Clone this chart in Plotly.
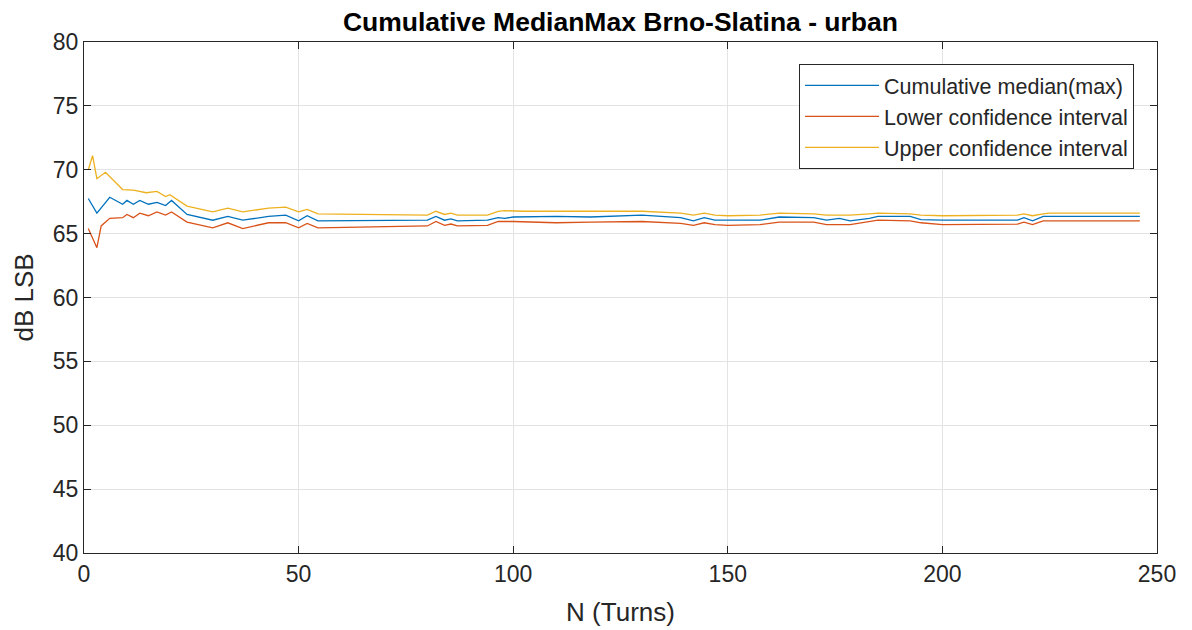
import plotly.graph_objects as go

# Cumulative median (max)
n_med = [1, 3, 6, 9, 10, 11.5, 13, 15, 17, 19, 20.4, 24, 30, 33.5, 37, 43, 47, 50, 52, 54.5,
         80, 82, 84, 85.5, 87, 94, 96.5, 98, 100, 110, 118, 130, 139, 142, 144.5, 147, 150,
         157.5, 162, 170, 173, 176, 178.5, 183, 185, 192.5, 195, 200, 217.5, 219, 221, 223.5, 246]
v_med = [67.75, 66.6, 67.85, 67.3, 67.6, 67.3, 67.6, 67.3, 67.45, 67.2, 67.6, 66.5, 66.05, 66.35, 66.05, 66.35, 66.45, 66.0, 66.4, 66.0,
         66.05, 66.35, 66.05, 66.15, 66.0, 66.05, 66.25, 66.2, 66.3, 66.35, 66.3, 66.45, 66.25, 66.0, 66.25, 66.05, 66.05,
         66.05, 66.3, 66.25, 66.05, 66.2, 66.0, 66.2, 66.35, 66.35, 66.1, 66.05, 66.05, 66.25, 66.0, 66.35, 66.35]

# Lower confidence interval
n_low = [1, 3, 4, 6, 9, 10, 11.5, 13, 15, 17, 19, 20.4, 24, 30, 33.5, 37, 43, 47, 50, 52, 54.5,
         80, 82, 84, 85.5, 87, 94, 96.5, 100, 110, 118, 130, 139, 142, 144.5, 147, 150,
         157.5, 162, 170, 173, 178.5, 185, 192.5, 195, 200, 217.5, 219, 221, 223.5, 246]
v_low = [65.4, 63.9, 65.6, 66.2, 66.25, 66.5, 66.25, 66.6, 66.4, 66.7, 66.45, 66.7, 65.9, 65.45, 65.85, 65.4, 65.85, 65.85, 65.45, 65.8, 65.45,
         65.6, 65.95, 65.65, 65.75, 65.6, 65.65, 65.95, 65.95, 65.85, 65.9, 65.95, 65.8, 65.65, 65.85, 65.7, 65.65,
         65.7, 65.9, 65.9, 65.7, 65.7, 66.05, 66.0, 65.85, 65.7, 65.75, 65.9, 65.7, 66.0, 66.0]

# Upper confidence interval
n_up = [1, 2, 3, 5, 9, 11.5, 14.5, 17, 19, 20, 24, 30, 33.5, 37, 43, 47, 50, 52, 54.5,
        80, 82, 84, 85.5, 87, 94, 96.5, 98, 102.5, 117, 130, 139, 142, 144.5, 147, 150,
        157.5, 162, 170, 173, 178.5, 183, 185, 192.5, 195, 200, 217.5, 219, 221, 223.5, 225, 246]
v_up = [70.0, 71.1, 69.3, 69.8, 68.45, 68.4, 68.2, 68.3, 67.9, 68.05, 67.15, 66.7, 67.0, 66.7, 67.0, 67.07, 66.7, 66.9, 66.55,
        66.45, 66.75, 66.5, 66.6, 66.45, 66.45, 66.75, 66.8, 66.75, 66.75, 66.75, 66.6, 66.45, 66.6, 66.45, 66.4,
        66.45, 66.6, 66.55, 66.45, 66.45, 66.55, 66.6, 66.55, 66.45, 66.4, 66.45, 66.55, 66.4, 66.55, 66.6, 66.6]

x_ticks = [0, 50, 100, 150, 200, 250]
y_ticks = [40, 45, 50, 55, 60, 65, 70, 75, 80]

axis_color = "#262626"
grid_color = "#e3e3e3"
font_family = "Liberation Sans, Arial, sans-serif"

fig = go.Figure()
fig.add_trace(go.Scatter(x=n_med, y=v_med, mode="lines", name="Cumulative median(max)",
                         line=dict(color="#0072BD", width=1.3)))
fig.add_trace(go.Scatter(x=n_low, y=v_low, mode="lines", name="Lower confidence interval",
                         line=dict(color="#D95319", width=1.3)))
fig.add_trace(go.Scatter(x=n_up, y=v_up, mode="lines", name="Upper confidence interval",
                         line=dict(color="#EDB120", width=1.3)))

axis_common = dict(showline=True, linecolor=axis_color, linewidth=1, mirror="ticks",
                   ticks="inside", ticklen=7, tickcolor=axis_color, automargin=False,
                   showgrid=True, gridcolor=grid_color, gridwidth=1, zeroline=False,
                   tickfont=dict(size=23, color=axis_color, family=font_family))

fig.update_xaxes(range=[0, 250], tickvals=x_ticks,
                 title=dict(text="N (Turns)", font=dict(size=26, color=axis_color, family=font_family), standoff=17),
                 **axis_common)
fig.update_yaxes(range=[40, 80], tickvals=y_ticks,
                 title=dict(text="dB LSB", font=dict(size=26, color=axis_color, family=font_family), standoff=11),
                 **axis_common)

fig.update_layout(
    width=1192, height=630,
    margin=dict(l=84, r=35, t=42, b=77),
    paper_bgcolor="white", plot_bgcolor="white",
    title=dict(text="<b>Cumulative MedianMax Brno-Slatina - urban</b>", x=0.5205, xanchor="center",
               y=0.965, yanchor="middle", font=dict(size=26.5, color="#000000", family=font_family)),
    legend=dict(x=0.9786, xanchor="right", y=0.957, yanchor="top",
                bgcolor="white", bordercolor=axis_color, borderwidth=1,
                font=dict(size=21.5, color=axis_color, family=font_family),
                itemwidth=74, tracegroupgap=0),
    showlegend=True,
)

fig.write_html("out.html")
